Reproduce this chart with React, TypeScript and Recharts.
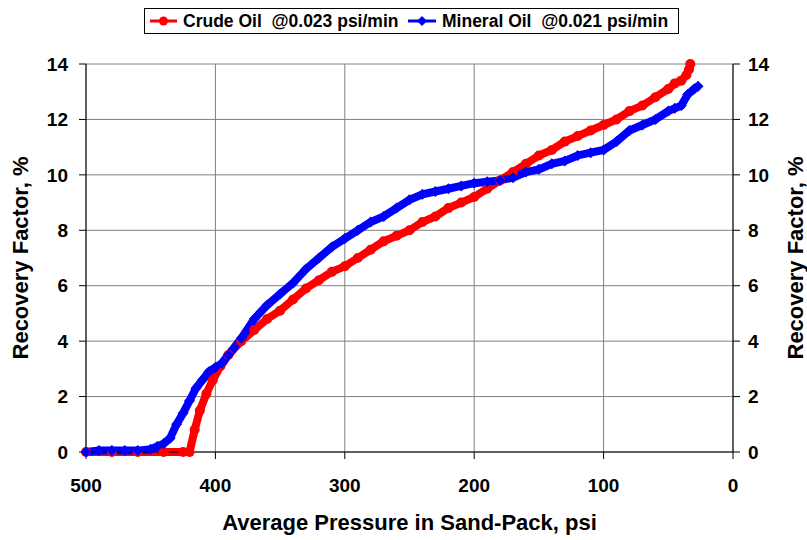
import { CartesianGrid, Line, LineChart, XAxis, YAxis } from "recharts"

// Crude Oil @0.023 psi/min
const crudePressure = [500, 480, 460, 440, 425, 420, 416, 412, 407, 402, 396, 390, 380, 370, 360, 350, 340, 330, 320, 310, 300, 290, 280, 270, 260, 250, 240, 230, 220, 210, 200, 190, 180, 170, 160, 150, 140, 130, 120, 110, 100, 90, 80, 70, 60, 50, 45, 40, 36, 34, 33]
const crudeRecovery = [0, 0, 0, 0, 0, 0, 0.8, 1.5, 2.1, 2.6, 3.1, 3.5, 4.0, 4.4, 4.8, 5.1, 5.5, 5.9, 6.2, 6.5, 6.7, 7.0, 7.3, 7.6, 7.8, 8.0, 8.3, 8.5, 8.8, 9.0, 9.2, 9.5, 9.8, 10.1, 10.4, 10.7, 10.9, 11.2, 11.4, 11.6, 11.8, 12.0, 12.3, 12.5, 12.8, 13.1, 13.3, 13.4, 13.6, 13.8, 14.0]

// Mineral Oil @0.021 psi/min
const mineralPressure = [500, 490, 480, 470, 460, 450, 445, 440, 435, 430, 425, 420, 415, 410, 405, 400, 395, 390, 380, 370, 360, 350, 340, 330, 320, 310, 300, 290, 280, 270, 260, 250, 240, 230, 220, 210, 200, 190, 180, 170, 160, 150, 140, 130, 120, 110, 100, 90, 80, 70, 60, 50, 45, 40, 35, 30, 27]
const mineralRecovery = [0, 0.05, 0.05, 0.05, 0.05, 0.1, 0.2, 0.3, 0.5, 1.0, 1.4, 1.85, 2.3, 2.6, 2.9, 3.05, 3.2, 3.5, 4.1, 4.8, 5.3, 5.7, 6.1, 6.6, 7.0, 7.4, 7.7, 8.0, 8.3, 8.5, 8.8, 9.1, 9.3, 9.4, 9.5, 9.6, 9.7, 9.75, 9.8, 9.9, 10.1, 10.2, 10.4, 10.5, 10.7, 10.8, 10.9, 11.2, 11.6, 11.8, 12.0, 12.3, 12.4, 12.5, 12.9, 13.1, 13.2]

const xTicks = [0, 100, 200, 300, 400, 500]
const yTicks = [0, 2, 4, 6, 8, 10, 12, 14]

const crudeData = crudePressure.map((p, i) => ({ p, rf: crudeRecovery[i] }))
const mineralData = mineralPressure.map((p, i) => ({ p, rf: mineralRecovery[i] }))

const font = "'Liberation Sans', Arial, sans-serif"
const tickStyle = { fontFamily: font, fontWeight: 700, fontSize: 19, fill: "#000" }
const labelStyle = { fontFamily: font, fontWeight: 700, fontSize: 22, fill: "#000", textAnchor: "middle" as const }

const Diamond = (props: any) => {
  const { cx, cy, index } = props
  if (cx == null || cy == null) return null
  return <path key={`dm${index}`} d={`M${cx},${cy - 5.5}L${cx + 5.5},${cy}L${cx},${cy + 5.5}L${cx - 5.5},${cy}Z`} fill="#0000ff" />
}

const LegendBox = () => (
  <div style={{
    position: "absolute", left: 144, top: 8, width: 528, height: 24, border: "1px solid #000",
    display: "flex", alignItems: "center", paddingLeft: 5, boxSizing: "content-box", whiteSpace: "pre",
    fontFamily: font, fontWeight: 700, fontSize: 17.5, background: "#fff"
  }}>
    <svg width={27} height={12} style={{ marginRight: 6 }}>
      <line x1={0} y1={6} x2={27} y2={6} stroke="#ff0000" strokeWidth={3} />
      <circle cx={13.5} cy={6} r={4.5} fill="#ff0000" />
    </svg>
    <span style={{ width: 215 }}>{"Crude Oil  @0.023 psi/min"}</span>
    <svg width={28} height={12} style={{ marginLeft: 10, marginRight: 6 }}>
      <line x1={0} y1={6} x2={28} y2={6} stroke="#0000ff" strokeWidth={3} />
      <path d="M14,1L19,6L14,11L9,6Z" fill="#0000ff" />
    </svg>
    <span>{"Mineral Oil  @0.021 psi/min"}</span>
  </div>
)

const App = () => {
  return (
    <div style={{ position: "absolute", left: 0, top: 0, width: 807, height: 540, background: "#fff" }}>
      <LineChart width={807} height={540} margin={{ top: 64, right: 0, bottom: 0, left: 0 }}>
        <CartesianGrid yAxisId="l" stroke="#808080" strokeWidth={1} />
        <XAxis
          dataKey="p" type="number" domain={[0, 500]} ticks={xTicks} reversed allowDuplicatedCategory={false}
          height={88} tick={tickStyle} tickSize={7} tickMargin={20}
          axisLine={{ stroke: "#000" }} tickLine={{ stroke: "#000" }}
          label={{ value: "Average Pressure in Sand-Pack, psi", position: "insideBottom", offset: 10, style: labelStyle }}
        />
        <YAxis
          yAxisId="l" type="number" domain={[0, 14]} ticks={yTicks} width={86}
          tick={tickStyle} tickSize={7} tickMargin={11}
          axisLine={{ stroke: "#000" }} tickLine={{ stroke: "#000" }}
          label={{ value: "Recovery Factor, %", angle: -90, position: "insideLeft", offset: 20, style: labelStyle }}
        />
        <YAxis
          yAxisId="r" orientation="right" type="number" domain={[0, 14]} ticks={yTicks} width={74}
          tick={tickStyle} tickSize={7} tickMargin={8}
          axisLine={{ stroke: "#000" }} tickLine={{ stroke: "#000" }}
          label={{ value: "Recovery Factor, %", angle: -90, position: "insideRight", offset: 12, style: labelStyle }}
        />
        <Line yAxisId="r" data={crudeData} dataKey="rf" stroke="none" dot={false} activeDot={false}
          legendType="none" isAnimationActive={false} />
        <Line yAxisId="l" data={crudeData} dataKey="rf" stroke="#ff0000" strokeWidth={8}
          dot={{ r: 5, fill: "#ff0000", stroke: "none" }} isAnimationActive={false} />
        <Line yAxisId="l" data={mineralData} dataKey="rf" stroke="#0000ff" strokeWidth={8}
          dot={Diamond} isAnimationActive={false} />
      </LineChart>
      <LegendBox />
    </div>
  )
}

export default App
